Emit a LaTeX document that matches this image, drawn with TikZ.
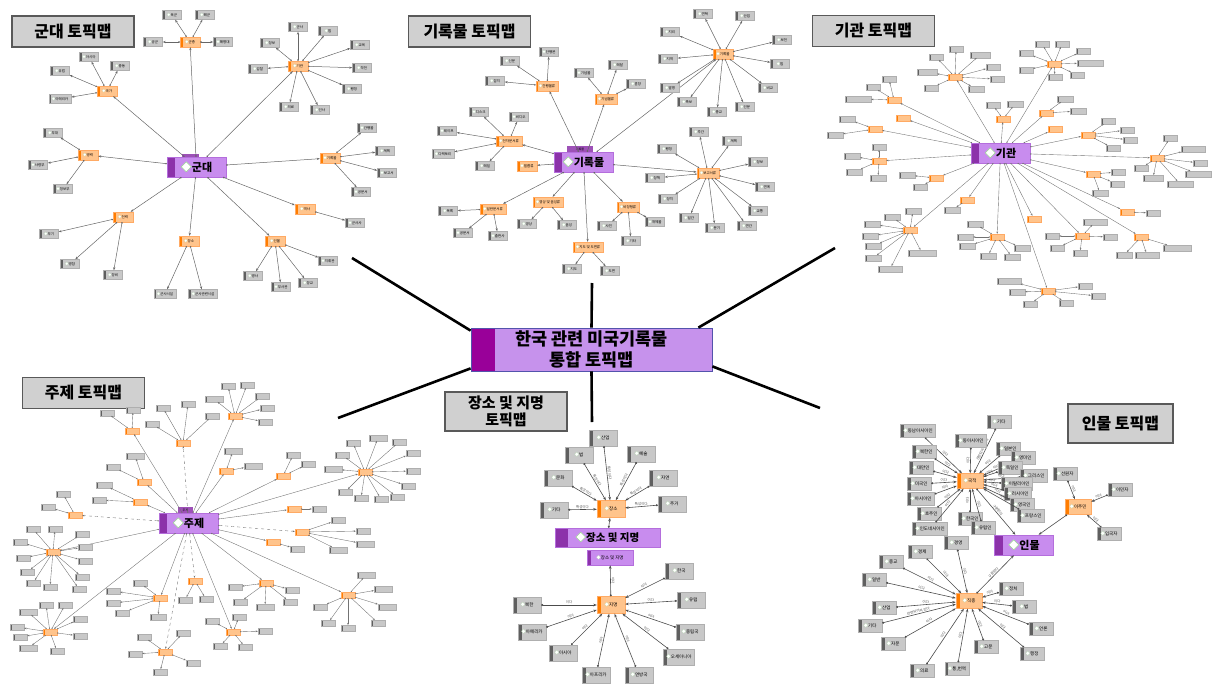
\documentclass[tikz,border=0pt]{standalone}
\usepackage{fontspec}
\setmainfont{Noto Sans CJK KR}
\usetikzlibrary{arrows.meta,positioning,calc}

\definecolor{rootfill}{RGB}{198,146,236}
\definecolor{rootstrip}{RGB}{153,0,153}
\definecolor{hubfill}{RGB}{200,140,238}
\definecolor{hubstrip}{RGB}{140,50,170}
\definecolor{hubline}{RGB}{180,110,220}
\definecolor{subfill}{RGB}{255,196,140}
\definecolor{substrip}{RGB}{255,125,0}
\definecolor{subline}{RGB}{255,170,100}
\definecolor{leaffill}{RGB}{200,200,200}
\definecolor{leafstrip}{RGB}{95,95,95}
\definecolor{leafline}{RGB}{175,175,175}
\definecolor{boxgray}{RGB}{208,208,208}
\definecolor{icongreen}{RGB}{120,200,110}

\newcommand{\dm}{\rlap{\textcolor{white}{◆}}\textcolor{icongreen}{◇}}

\tikzset{
  leftstrip/.style 2 args={path picture={\fill[#1] (path picture bounding box.south west) rectangle ([xshift=#2]path picture bounding box.north west);}},
  mapbox/.style={draw=black!65, line width=1.2pt, fill=boxgray, minimum width=122pt, minimum height=31pt, inner sep=0pt, align=center, font=\fontsize{16}{19}\selectfont\bfseries},
  rootbox/.style={draw=blue!35!gray, line width=0.8pt, fill=rootfill, leftstrip={rootstrip}{24pt}, minimum width=241pt, minimum height=43pt, inner sep=0pt, align=center, font=\fontsize{17.5}{21}\selectfont\bfseries},
  hubbox/.style={draw=hubline, line width=0.5pt, fill=hubfill, leftstrip={hubstrip}{8pt}, minimum width=59pt, minimum height=20pt, inner sep=0pt, font=\fontsize{11}{12}\selectfont\bfseries},
  hubtab/.style={fill=hubstrip!85, minimum width=17pt, minimum height=5pt, inner sep=0pt, font=\fontsize{3}{3}\selectfont},
  subbox/.style={draw=subline, line width=0.4pt, fill=subfill, leftstrip={substrip}{2.5pt}, minimum width=20pt, minimum height=10pt, inner xsep=3pt, inner ysep=0pt, font=\fontsize{3.5}{4}\selectfont},
  leafbox/.style={draw=leafline, line width=0.4pt, fill=leaffill, leftstrip={leafstrip}{2.5pt}, minimum width=19pt, minimum height=9pt, inner xsep=3pt, inner ysep=0pt, font=\fontsize{3.5}{4}\selectfont},
  tinysub/.style={subbox, minimum width=14pt, minimum height=6pt, leftstrip={substrip}{2pt}},
  tinyleaf/.style={leafbox, minimum height=5.5pt, leftstrip={leafstrip}{2pt}},
  midsub/.style={subbox, minimum width=26pt, minimum height=15pt, leftstrip={substrip}{3.5pt}, font=\fontsize{4.5}{5}\selectfont},
  midleaf/.style={leafbox, minimum width=24pt, minimum height=13pt, leftstrip={leafstrip}{3.5pt}, font=\fontsize{4.5}{5}\selectfont},
  bigsub/.style={subbox, minimum width=28pt, minimum height=17pt, leftstrip={substrip}{4pt}, font=\fontsize{4.5}{5}\selectfont},
  bigleaf/.style={leafbox, minimum width=28pt, minimum height=16pt, leftstrip={leafstrip}{4pt}, font=\fontsize{4.5}{5}\selectfont},
  link/.style={draw=black!60, line width=0.5pt, {Circle[length=1.5pt]}-{Stealth[length=3pt,width=2.2pt]}},
  tinylink/.style={draw=black!55, line width=0.38pt, {Circle[length=1.2pt]}-{Stealth[length=2.2pt,width=1.7pt]}},
  darklink/.style={draw=black!70, line width=0.6pt, {Circle[length=2pt]}-{Stealth[length=3.5pt,width=2.6pt]}},
  elabel/.style={font=\fontsize{3.5}{4}\selectfont, text=black!70, inner sep=0.6pt, sloped, above},
  mainline/.style={line width=2.6pt, black}
}

\begin{document}
\begin{tikzpicture}[x=1pt, y=-1pt]
    \useasboundingbox (0,0) rectangle (1213,683);

    % centre topic and the six maps
    \node[rootbox] (root) at (591.5,349.5) {한국 관련 미국기록물\\통합 토픽맵};
    \coordinate (gdend) at (352,258);
    \coordinate (rcend) at (592,283);
    \coordinate (gwend) at (835,248);
    \coordinate (jjend) at (338,418);
    \coordinate (jsend) at (592,422);
    \coordinate (imend) at (820,408);
    \draw[mainline] ([yshift=-3pt]root.north west) -- (gdend);
    \draw[mainline] (root.north) -- (rcend);
    \draw[mainline] ([xshift=-14pt]root.north east) -- (gwend);
    \draw[mainline] ([yshift=3pt]root.south west) -- (jjend);
    \draw[mainline] (root.south) -- (jsend);
    \draw[mainline] ([yshift=5pt]root.south east) -- (imend);

    \node[mapbox] (gdtitle) at (73,31.5) {군대 토픽맵};
    \node[mapbox] (rctitle) at (469.5,31.5) {기록물 토픽맵};
    \node[mapbox] (gwtitle) at (873.5,31) {기관 토픽맵};
    \node[mapbox] (jjtitle) at (83.5,393) {주제 토픽맵};
    \node[mapbox, minimum height=39pt, font=\fontsize{15}{17}\selectfont\bfseries] (jstitle) at (506,411.5) {장소 및 지명\\토픽맵};
    \node[mapbox, minimum width=105pt, minimum height=39pt] (imtitle) at (1120.5,423.5) {인물 토픽맵};

    % 군대 map
    \node[hubtab] (gundaetab) at (190.5,156) {};
    \node[hubbox] (gundae) at (196.5,167) {\dm 군대};
    \foreach \n/\px/\py/\lab in {gj/190/42/군종, gk/298/66/기관, gg/107/91/국가, gb/88/155/병력, gr/330/158/기록물,
        gh/305/209/역사, gi/275/241/인물, gp/189/241/장소, gw/123/217/전력}{
        \node[subbox] (\n) at (\px,\py) {\dm \lab};
        \draw[link] (gundae) -- (\n);
    }
    \foreach \hb/\px/\py/\lab [count=\i] in {gj/172/15/육군, gj/205/15/해군, gj/153/42/공군, gj/223/42/해병대,
        gk/270/43/정보, gk/298/27/군사, gk/328/31/법, gk/360/45/교육, gk/362/68/작전, gk/352/89/행정,
        gk/320/110/인사, gk/289/107/의료, gk/258/69/감찰,
        gg/89/57/아시아, gg/60/71/유럽, gg/120/66/중동, gg/60/99/아메리카,
        gb/53/133/부대, gb/38/165/사령부, gb/63/189/정보부,
        gr/367/128/간행물, gr/385/151/계획, gr/387/173/보고서, gr/361/192/공문서,
        gh/355/223/군사사,
        gi/253/276/병사, gi/281/287/부사관, gi/308/283/장교, gi/328/261/지휘관,
        gp/165/294/군사시설, gp/203/294/군사관련시설,
        gw/49/234/무기, gw/70/264/병참, gw/113/275/장비}{
        \node[leafbox] (gdl\i) at (\px,\py) {\dm \lab};
        \draw[link] (\hb) -- (gdl\i);
    }

    % 기록물 map
    \node[hubtab, minimum width=26pt, minimum height=7pt] (girokmultab) at (580,149) {기록물};
    \node[hubbox] (girokmul) at (583.5,162) {\dm 기록물};
    \foreach \n/\px/\py/\lab in {rs1/547/86/간행물류, rs2/606/99/기념물류, rs3/723/54/기록물, rs4/509/141/전자문서류,
        rs5/527/166/필름류, rs6/493/209/일반문서류, rs7/548/202/영상 및 음성류, rs8/588/247/지도 및 도면류,
        rs9/628/207/비정형류, rs10/708/173/보고서류}{
        \node[subbox] (\n) at (\px,\py) {\dm \lab};
        \draw[link] (girokmul) -- (\n);
    }
    \foreach \hb/\px/\py/\lab [count=\i] in {rs1/510/61/신문, rs1/495/81/잡지, rs1/549/52/단행본,
        rs2/584/73/기념물, rs2/618/65/메달, rs2/636/84/훈장,
        rs3/703/14/연혁, rs3/745/16/산업, rs3/670/32/지리, rs3/668/59/지역, rs3/782/40/보전, rs3/780/64/법,
        rs3/768/88/비교, rs3/670/88/발명, rs3/687/102/족보, rs3/717/112/종교, rs3/745/107/인문,
        rs4/479/112/디스크, rs4/519/117/비디오, rs4/447/131/테이프, rs4/443/154/디렉토리, rs4/485/166/메일,
        rs6/448/211/목록, rs6/463/233/공문서, rs6/498/236/출판사,
        rs7/527/224/영상, rs7/567/225/음성,
        rs8/572/269/지도, rs8/610/271/도면,
        rs9/607/226/사진, rs9/631/241/기타, rs9/655/222/개체물,
        rs10/699/132/주간, rs10/732/141/계획, rs10/667/149/행정, rs10/655/178/정책, rs10/668/199/정치,
        rs10/689/218/일간, rs10/715/228/분기, rs10/747/226/연간, rs10/758/211/교통, rs10/765/187/연계,
        rs10/758/162/정보}{
        \node[leafbox] (rcl\i) at (\px,\py) {\dm \lab};
        \draw[link] (\hb) -- (rcl\i);
    }

    % 기관 map (labels too small to read)
    \node[hubbox] (gigwan) at (1000.5,153) {\dm 기관};
    \foreach \n/\px/\py in {ga1/955/77, ga2/1054/64, ga3/894/100, ga4/903/118, ga5/875/129, ga6/1003/119,
        ga7/1046/113, ga8/1055/129, ga9/1088/135, ga10/1157/158, ga11/879/161, ga12/936/178, ga13/1093/174,
        ga14/967/200, ga15/1127/212, ga16/1034/219, ga17/910/230, ga18/997/237, ga19/1082/236,
        ga20/1141/237, ga21/1048/291}{
        \node[tinysub] (\n) at (\px,\py) {};
        \draw[tinylink] (gigwan) -- (\n);
    }
    \foreach \hb/\px/\py/\bw [count=\i] in {ga1/956/49/14, ga1/936/57/14, ga1/980/55/20, ga1/927/72/20,
        ga1/993/67/14, ga1/997/79/14, ga1/931/88/14, ga1/976/89/16,
        ga2/1042/44/14, ga2/1062/44/14, ga2/1026/53/14, ga2/1083/51/14, ga2/1090/63/26, ga2/1026/70/14,
        ga2/1055/77/14, ga2/1077/75/14,
        ga3/889/79/14, ga3/873/87/14, ga3/858/99/26,
        ga5/847/119/16, ga5/835/135/16,
        ga6/993/105/14, ga6/1015/104/16,
        ga7/1065/99/16, ga7/1078/111/16,
        ga9/1108/121/14, ga9/1127/130/14, ga9/1130/140/14, ga9/1113/148/14,
        ga10/1170/138/14, ga10/1193/149/24, ga10/1200/163/14, ga10/1198/174/26, ga10/1180/184/26,
        ga10/1153/178/20, ga10/1141/168/14,
        ga11/879/147/14, ga11/852/156/16, ga11/854/172/16, ga11/878/178/16,
        ga12/907/175/16, ga12/920/187/14,
        ga13/1118/172/14, ga13/1117/184/14, ga13/1100/193/16,
        ga14/952/210/16, ga15/1153/213/14,
        ga17/892/217/16, ga17/913/211/16, ga17/872/224/16, ga17/870/236/16, ga17/873/246/16,
        ga17/873/258/16, ga17/890/269/24, ga17/922/253/28,
        ga18/975/224/16, ga18/965/237/16, ga18/967/246/16, ga18/988/256/16, ga18/1012/257/16, ga18/1022/248/16,
        ga19/1095/222/24, ga19/1052/236/14, ga19/1110/237/14, ga19/1057/248/14, ga19/1080/253/14,
        ga20/1177/248/28, ga20/1124/255/16, ga20/1147/255/24,
        ga21/1009/281/24, ga21/1017/292/16, ga21/1085/286/14, ga21/1098/296/14, ga21/1030/304/14,
        ga21/1066/303/14}{
        \node[tinyleaf, minimum width=\bw pt] (gwl\i) at (\px,\py) {};
        \draw[tinylink] (\hb) -- (gwl\i);
    }

    % 주제 map (labels too small to read)
    \node[hubtab, minimum width=15pt, minimum height=6pt] (jujetab) at (185.5,510) {주제};
    \node[hubbox] (juje) at (188.5,523) {\dm 주제};
    \foreach \n/\px/\py/\ls in {j1/132/431/solid, j2/183/443/dashed, j3/235/416/solid, j4/144/482/solid,
        j5/226/471/solid, j6/140/502/solid, j7/75/515/dashed, j8/283/476/solid, j9/365/472/solid,
        j10/294/509/solid, j11/302/532/dashed, j12/273/542/solid, j13/53/552/solid, j14/195/581/dashed,
        j15/160/598/solid, j16/266/583/solid, j17/348/595/solid, j18/50/632/solid, j19/165/652/dashed,
        j20/233/632/solid}{
        \node[tinysub] (\n) at (\px,\py) {};
        \draw[tinylink, \ls] (juje) -- (\n);
    }
    \foreach \hb/\px/\py/\bw [count=\i] in {j1/107/413/14, j1/133/410/14,
        j2/163/408/14, j2/188/404/14, j2/212/416/14, j2/152/424/14,
        j3/228/386/14, j3/247/385/14, j3/214/399/18, j3/262/396/14, j3/267/408/14, j3/265/422/14,
        j4/135/456/18, j4/113/467/14,
        j5/233/451/18, j5/253/466/18,
        j6/104/485/16, j6/99/500/14,
        j7/63/494/14, j7/48/507/14,
        j8/293/455/14, j8/308/464/14,
        j9/353/443/14, j9/378/438/18, j9/399/442/14, j9/413/453/14, j9/413/471/14, j9/408/486/14,
        j9/397/497/14, j9/381/499/14, j9/361/498/14, j9/345/492/14, j9/333/469/18, j9/342/455/14,
        j10/319/509/14,
        j11/338/520/14, j11/363/531/14, j11/365/544/18, j11/338/550/18,
        j12/297/549/14,
        j13/33/529/14, j13/55/529/14, j13/82/534/14, j13/20/542/14, j13/85/547/14, j13/23/558/14,
        j13/85/561/14, j13/27/572/14, j13/82/577/14, j13/33/583/14, j13/50/587/14, j13/79/589/14,
        j14/185/600/14, j14/206/599/14,
        j15/140/583/14, j15/113/591/14, j15/113/603/14, j15/122/613/14, j15/158/617/16,
        j16/235/587/14, j16/292/590/14, j16/240/602/14, j16/265/607/18, j16/290/602/14,
        j17/366/575/18, j17/383/589/18, j17/387/607/18, j17/378/623/14, j17/348/628/14, j17/328/623/14,
        j17/320/607/14,
        j18/46/605/14, j18/65/605/14, j18/28/612/18, j18/80/619/14, j18/17/627/14, j18/20/637/14,
        j18/80/636/14, j18/28/648/18, j18/57/651/14,
        j19/144/637/14, j19/183/633/14, j19/135/654/14, j19/193/663/14, j19/160/672/14,
        j20/212/621/14, j20/239/617/14, j20/265/631/14, j20/220/646/14, j20/245/647/14}{
        \node[tinyleaf, minimum width=\bw pt] (jjl\i) at (\px,\py) {};
        \draw[tinylink] (\hb) -- (jjl\i);
    }

    % 장소 및 지명 map
    \node[hubbox, minimum width=105pt, minimum height=19pt, leftstrip={hubstrip}{13pt}, font=\fontsize{10.5}{12}\selectfont\bfseries] (jsbig) at (607.5,537.5) {\dm 장소 및 지명};
    \node[hubbox, minimum width=46pt, minimum height=15pt, leftstrip={hubstrip}{4pt}, font=\fontsize{4.5}{5}\selectfont] (jssmall) at (610,557.5) {\dm 장소 및 지명};
    \node[bigsub] (jangso) at (611,509) {\dm 장소};
    \node[bigsub] (jimyeong) at (611,605) {\dm 지명};
    \draw[darklink] (jsbig) -- (jangso);
    \draw[darklink] (jimyeong) -- node[elabel] {이다} (jssmall);
    \foreach \px/\py/\lab [count=\i] in {603/438/산업, 579/455/법, 641/454/예술, 558/478/문화, 663/478/자연,
        554/510/기타, 672/504/주거}{
        \node[bigleaf] (jsl\i) at (\px,\py) {\dm \lab};
        \draw[darklink] (jsl\i) -- node[elabel] {특성이다} (jangso);
    }
    \foreach \px/\py/\lab [count=\i] in {679/571/한국, 691/600/유럽, 690/632/중립국, 679/657/오세아니아,
        639/675/연방국, 596/675/아프리카, 563/653/아시아, 532/632/아메리카, 527/605/북한}{
        \node[bigleaf] (jml\i) at (\px,\py) {\dm \lab};
        \draw[darklink] (jml\i) -- node[elabel] {이다} (jimyeong);
    }

    % 인물 map
    \node[hubbox] (inmul) at (1024,545) {\dm 인물};
    \node[midsub] (gukjeok) at (970,481) {\dm 국적};
    \node[midsub] (jikjong) at (969,601) {\dm 직종};
    \node[midsub] (ijumin) at (1078,507) {\dm 이주민};
    \draw[darklink] (gukjeok) -- node[elabel] {구분된다} (inmul);
    \draw[darklink] (jikjong) -- node[elabel] {구분된다} (inmul);
    \draw[darklink] (ijumin) -- (inmul);
    \foreach \px/\py/\lab/\rel [count=\i] in {999/422/기타/관련되어져 있다, 918/431/동남아시아인/이다,
        971/441/동아시아인/이다, 924/452/북한인/이다, 921/468/대만인/이다, 919/484/미국인/이다,
        921/499/아시아인/이다, 929/514/호주인/이다, 930/529/인도네시아인/이다, 970/519/한국인/이다,
        983/528/유럽인/이다, 1008/449/일본인/이다, 1023/458/영미인/이다, 1010/468/독일인/이다,
        1034/476/그리스인/이다, 1017/484/이탈리아인/이다, 1018/494/러시아인/이다, 1022/505/영국인/이다,
        1031/516/프랑스인/이다}{
        \node[midleaf] (gjl\i) at (\px,\py) {\dm \lab};
        \draw[darklink] (gjl\i) -- node[elabel] {\rel} (gukjeok);
    }
    \foreach \px/\py/\lab/\rel [count=\i] in {956/543/경영/이다, 920/552/경제/이다, 891/562/종교/이다,
        874/580/일반/이다, 884/608/산업/이다, 870/626/기타/관련되어져 있다, 893/644/자문/이다,
        922/671/의료/이다, 957/669/{통,번역}/이다, 986/647/고문/이다, 1032/654/행정/이다,
        1041/629/언론/이다, 1024/607/법/이다, 1011/589/정치/이다}{
        \node[midleaf] (jjk\i) at (\px,\py) {\dm \lab};
        \draw[darklink] (jjk\i) -- node[elabel] {\rel} (jikjong);
    }
    \foreach \px/\py/\lab [count=\i] in {1065/474/선원자, 1120/490/이민자, 1109/534/입국자}{
        \node[midleaf] (ijl\i) at (\px,\py) {\dm \lab};
        \draw[darklink] (ijl\i) -- node[elabel] {이다} (ijumin);
    }
\end{tikzpicture}
\end{document}
